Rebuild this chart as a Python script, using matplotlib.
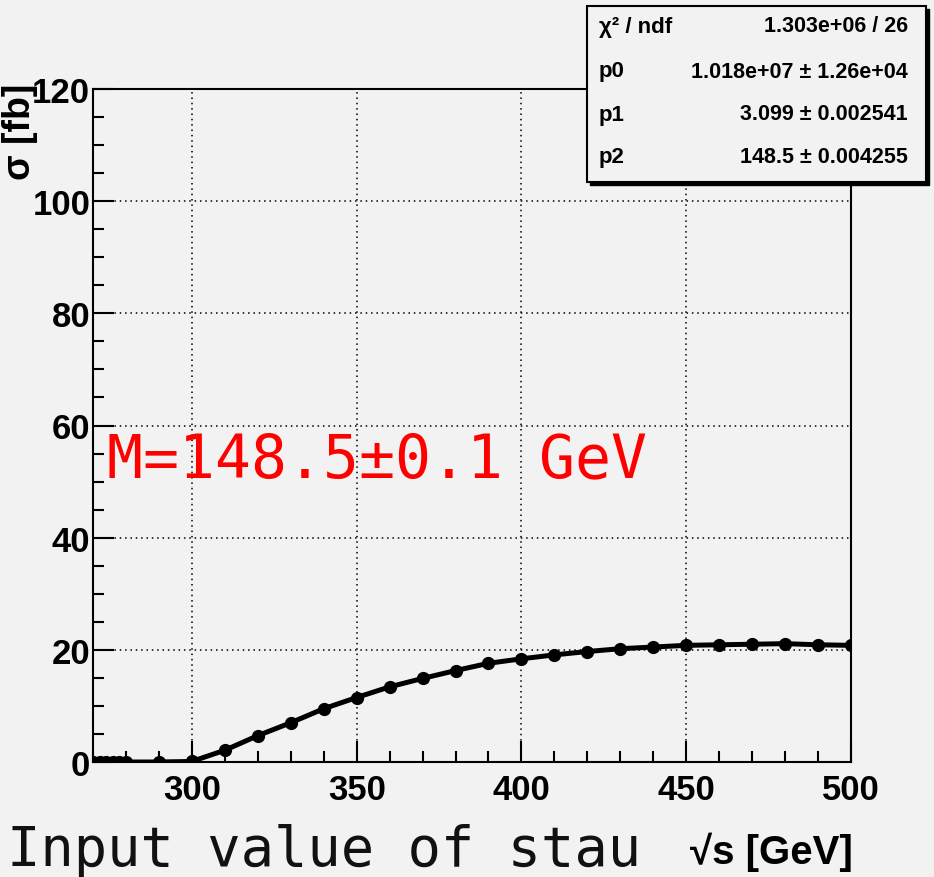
import matplotlib
matplotlib.use("Agg")
import matplotlib.pyplot as plt
from matplotlib.patches import Rectangle
from matplotlib.ticker import MultipleLocator

# Data
sqrt_s = [270, 272, 274, 276, 278, 280, 290, 300, 310, 320, 330, 340, 350, 360,
          370, 380, 390, 400, 410, 420, 430, 440, 450, 460, 470, 480, 490, 500]
sigma = [0.0, 0.0, 0.0, 0.0, 0.0, 0.0, 0.0, 0.1, 2.1, 4.7, 7.0, 9.5, 11.5, 13.4,
         14.9, 16.3, 17.6, 18.4, 19.1, 19.7, 20.2, 20.5, 20.8, 20.9, 21.0, 21.1, 20.9, 20.8]

stat_names = ["\u03c7\u00b2 / ndf", "p0", "p1", "p2"]
stat_values = ["1.303e+06 / 26", "1.018e+07 \u00b1 1.26e+04",
               "3.099 \u00b1 0.002541", "148.5 \u00b1 0.004255"]

bg = "#f2f2f2"
W, H = 934, 878
sans = ["Liberation Sans", "DejaVu Sans"]

fig = plt.figure(figsize=(W / 100, H / 100), dpi=100, facecolor=bg)
ax = fig.add_axes([93 / W, 1 - 763 / H, (851 - 93) / W, (763 - 90) / H])
ax.set_facecolor(bg)

ax.plot(sqrt_s, sigma, color="black", lw=3.6, marker="o", ms=8.5, zorder=3)

ax.set_xlim(270, 500)
ax.set_ylim(0, 120)
ax.xaxis.set_major_locator(MultipleLocator(50))
ax.xaxis.set_minor_locator(MultipleLocator(10))
ax.yaxis.set_major_locator(MultipleLocator(20))
ax.yaxis.set_minor_locator(MultipleLocator(5))
ax.grid(True, which="major", color="black", ls=(0, (1, 2.5)), lw=1.1)

ax.tick_params(which="both", direction="in", top=False, right=False, width=1.5)
ax.tick_params(which="major", length=15)
ax.tick_params(which="minor", length=8)
ax.tick_params(axis="x", which="major", pad=8)
ax.tick_params(axis="y", which="major", pad=2)
for lab in ax.get_xticklabels() + ax.get_yticklabels():
    lab.set_fontfamily("Liberation Sans")
    lab.set_fontweight("bold")
    lab.set_fontsize(25)
for sp in ax.spines.values():
    sp.set_linewidth(1.5)

# axis titles
fig.text(7 / W, 1 - 866 / H, "Input value of stau", family="DejaVu Sans Mono",
         fontsize=40, va="baseline", ha="left", color="#111111")
fig.text(690 / W, 1 - 864 / H, "\u221as [GeV]", family=sans,
         fontweight="bold", fontsize=29, va="baseline", ha="left")
fig.text(20 / W, 1 - 84 / H, "\u03c3 [fb]", family=sans,
         fontweight="bold", fontsize=27, rotation=90, ha="center", va="top")

# red annotation
fig.text(107 / W, 1 - 477 / H, "M=148.5\u00b10.1 GeV", family="DejaVu Sans Mono",
         fontsize=43, color="red", va="baseline", ha="left")

# stats box
bx0, by0, bx1, by1 = 587, 7, 926, 183
shadow = Rectangle((bx0 / W + 3 / W, 1 - (by1 + 3) / H), (bx1 - bx0) / W, (by1 - by0) / H,
                   transform=fig.transFigure, facecolor="black", edgecolor="black", zorder=5)
box = Rectangle((bx0 / W, 1 - by1 / H), (bx1 - bx0) / W, (by1 - by0) / H,
                transform=fig.transFigure, facecolor=bg, edgecolor="black", lw=1.5, zorder=6)
fig.add_artist(shadow)
fig.add_artist(box)
row_y = [27, 72, 115, 158]
for name, val, ry in zip(stat_names, stat_values, row_y):
    fig.text(599 / W, 1 - ry / H, name, family=sans,
             fontweight="bold", fontsize=16, va="center", ha="left", zorder=7)
    fig.text(908 / W, 1 - ry / H, val, family=sans,
             fontweight="bold", fontsize=15.5, va="center", ha="right", zorder=7)

fig.savefig("out.png", dpi=100, facecolor=bg)
